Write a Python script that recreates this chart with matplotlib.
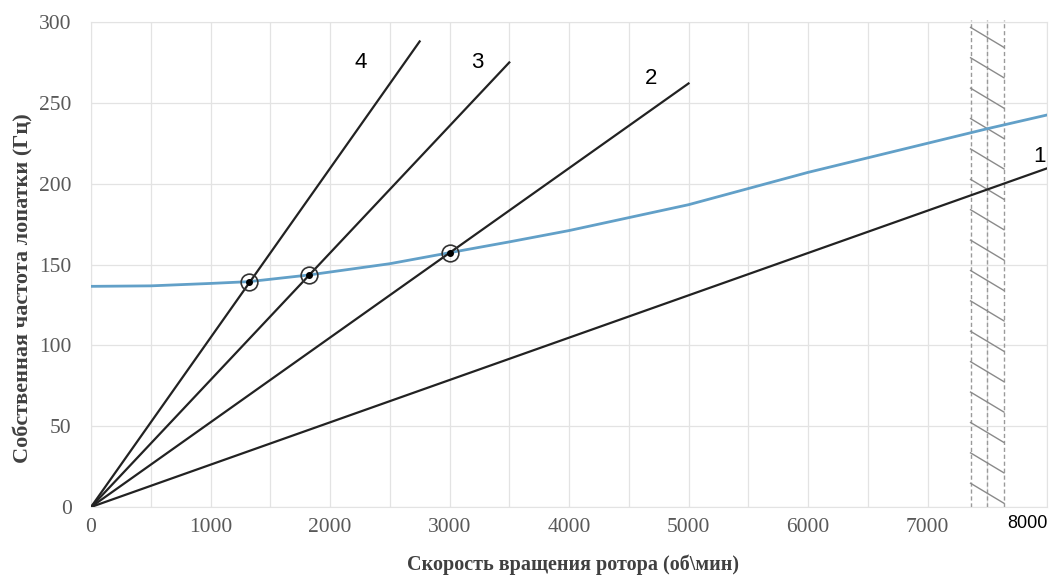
import matplotlib.pyplot as plt
import numpy as np

# Собственная частота лопатки от скорости вращения
rpm = [0, 500, 1000, 1320, 1820, 2500, 3000, 3500, 4000, 4500, 5000,
       5500, 6000, 6500, 7000, 7500, 8000]
freq = [136.5, 136.8, 138.3, 139.4, 143.5, 150.5, 157.3, 164.0, 171.0,
        179.0, 187.0, 197.0, 207.0, 216.0, 225.0, 234.0, 242.5]

# Лучи гармоник k = 1..4 (конечные точки)
harm_labels = ['1', '2', '3', '4']
harm_rpm_end = [8000, 5000, 3500, 2750]
harm_freq_end = [209.5, 262.0, 275.0, 288.0]
harm_label_pos = [(7940, 217), (4690, 265), (3230, 275), (2260, 275)]

# Резонансные точки
res_rpm = [1320, 1820, 3000]
res_freq = [139.4, 143.5, 157.3]

# Зона рабочих оборотов
zone_rpm = [7360, 7500, 7640]

fig = plt.figure(figsize=(10.56, 5.86), dpi=100)
ax = fig.add_axes([0.0862, 0.1348, 0.9053, 0.8276])

ax.set_xlim(0, 8000)
ax.set_ylim(0, 300)
ax.set_xticks(np.arange(0, 8000, 1000))
ax.set_xticks(np.arange(0, 8001, 500), minor=True)
ax.set_yticks(np.arange(0, 301, 50))
ax.grid(True, which='both', color='#e3e3e3', lw=0.9)
ax.set_axisbelow(True)
ax.tick_params(which='both', length=0, labelsize=15.5, colors='#595959')
ax.tick_params(axis='y', pad=14)
ax.tick_params(axis='x', pad=8)
for lab in ax.get_xticklabels() + ax.get_yticklabels():
    lab.set_family('Liberation Serif')
for s in ax.spines.values():
    s.set_color('#e3e3e3')

# штриховка зоны
for x in zone_rpm:
    ax.plot([x, x], [0, 301], color='#9a9a9a', lw=1, ls=(0, (3, 2)), clip_on=False)
for y0 in np.arange(14.7, 300, 18.8):
    ax.plot([zone_rpm[0], zone_rpm[-1]], [y0, y0 - 12.4], color='#8a8a8a', lw=1)

ax.plot(rpm, freq, color='#62a0c8', lw=2, zorder=3)

for lab, xe, ye, (tx, ty) in zip(harm_labels, harm_rpm_end, harm_freq_end, harm_label_pos):
    ax.plot([0, xe], [0, ye], color='#222222', lw=1.6, zorder=4)
    ax.text(tx, ty, lab, fontsize=16, family='Liberation Sans', color='black',
            ha='center', va='center')

ax.plot(res_rpm, res_freq, 'o', ms=12, mfc='none', mec='#333333', mew=1.2, zorder=5)
ax.plot(res_rpm, res_freq, 'o', ms=4, color='black', zorder=5)

ax.text(0.98, -0.034, '8000', transform=ax.transAxes, fontsize=13,
        family='Liberation Sans', color='black', ha='center', va='center')

ax.set_xlabel('Скорость вращения ротора (об\\мин)', family='Liberation Serif',
              fontsize=14.5, fontweight='bold', color='#404040')
ax.xaxis.set_label_coords(0.504, -0.097)
ax.set_ylabel('Собственная частота лопатки (Гц)', family='Liberation Serif',
              fontsize=16, fontweight='bold', color='#404040')
ax.yaxis.set_label_coords(-0.060, 0.4515)

fig.savefig('out.png', dpi=100)
plt.close()
